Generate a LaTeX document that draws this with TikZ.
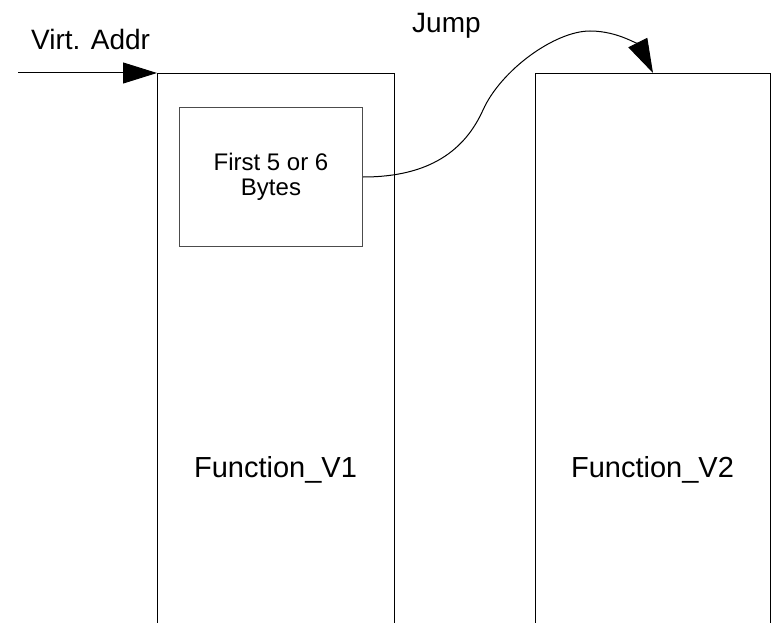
\documentclass[tikz,border=0pt]{standalone}
\usepackage{fontspec}
\setmainfont{Liberation Sans}
\usetikzlibrary{arrows.meta}
\begin{document}
\begin{tikzpicture}[x=1pt,y=-1pt,
  outerbox/.style={draw=black, line width=1pt, minimum width=237pt, minimum height=600pt, anchor=north west, inner sep=0pt},
  innerbox/.style={draw=black!70, line width=1pt, minimum width=183pt, minimum height=138pt, anchor=north west, inner sep=0pt,
    align=center, font=\fontsize{24}{25}\selectfont},
  lbl/.style={inner sep=0pt, font=\fontsize{28}{30}\selectfont},
  fnlbl/.style={inner sep=0pt, anchor=base, font=\fontsize{29}{30}\selectfont},
  conn/.style={draw=black, line width=1pt, -{Triangle[length=34pt,width=21pt]}}]
\useasboundingbox (0,0) rectangle (776,623);
\clip (0,0) rectangle (776,623);
% the two functions, running on past the lower edge
\node[outerbox] (f1) at (157,73) {};
\node[outerbox, minimum width=235pt] (f2) at (535,73) {};
\node[fnlbl] (f1name) at (275.5,477) {Function\_V1};
\node[fnlbl] (f2name) at (652.5,477) {Function\_V2};
% patched prologue of the first function
\node[innerbox] (prologue) at (179,107.5) {First 5 or 6\\Bytes};
% labels
\node[lbl, anchor=base west] (virt) at (31,50) {Virt. Addr};
\node[lbl, anchor=base west] (jump) at (412,33) {Jump};
% entry arrow
\coordinate (entry) at (18,73);
\draw[conn] (entry) -- (f1.north west);
% jump from the prologue into the second function
\draw[conn] (prologue.east) .. controls (430,177) and (465,150) .. (483,110)
  .. controls (501,70) and (555,31) .. (590,31)
  .. controls (620,31) and (640,47) .. (f2.north);
\end{tikzpicture}
\end{document}
